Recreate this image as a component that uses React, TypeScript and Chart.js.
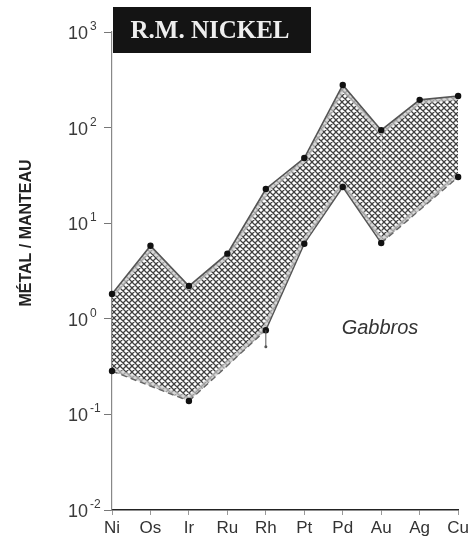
import React, { useEffect, useRef } from "react";
import { Chart, registerables } from "chart.js";

Chart.register(...registerables);

const categories = ["Ni", "Os", "Ir", "Ru", "Rh", "Pt", "Pd", "Au", "Ag", "Cu"];
const upperValues = [1.82, 5.8, 2.2, 4.8, 22.8, 48, 279, 94, 195, 214];
const lowerValues: (number | null)[] = [0.284, null, 0.138, null, 0.76, 6.1, 23.9, 6.2, null, 30.4];
const rhErrorLow = 0.51;
const decadeTicks = [0.01, 0.1, 1, 10, 100, 1000];
const decadeExponents = ["-2", "-1", "0", "1", "2", "3"];
const dashedLowerSegmentEnds = ["Ir", "Rh", "Cu"]; // lower-line segments ending here are dashed

function makeHatch(): CanvasPattern | string {
  const n = 6;
  const c = document.createElement("canvas");
  c.width = n;
  c.height = n;
  const g = c.getContext("2d");
  if (!g) return "#888";
  g.fillStyle = "#ffffff";
  g.fillRect(0, 0, n, n);
  g.strokeStyle = "#404040";
  g.lineWidth = 1.3;
  g.beginPath();
  for (const k of [-n, 0, n]) {
    g.moveTo(-1 + k, -1);
    g.lineTo(n + 1 + k, n + 1);
    g.moveTo(-1 + k, n + 1);
    g.lineTo(n + 1 + k, -1);
  }
  g.stroke();
  return g.createPattern(c, "repeat") || "#888";
}

export default function App() {
  const ref = useRef<HTMLCanvasElement | null>(null);

  useEffect(() => {
    if (!ref.current) return;
    const hatch = makeHatch();
    const dashedEnds = dashedLowerSegmentEnds.map((c) => categories.indexOf(c));

    const decorPlugin = {
      id: "decor",
      beforeDatasetsDraw(chart: any) {
        // light grey band along the inside of the hatched area
        const up = chart.getDatasetMeta(0).data.filter((p: any) => !p.skip);
        const lo = chart.getDatasetMeta(1).data.filter((p: any) => !p.skip);
        const ctx = chart.ctx;
        ctx.save();
        ctx.beginPath();
        up.forEach((p: any, i: number) => (i ? ctx.lineTo(p.x, p.y) : ctx.moveTo(p.x, p.y)));
        for (let i = lo.length - 1; i >= 0; i--) ctx.lineTo(lo[i].x, lo[i].y);
        ctx.closePath();
        ctx.clip();
        ctx.strokeStyle = "rgba(200,200,200,0.7)";
        ctx.lineWidth = 8;
        ctx.lineJoin = "round";
        ctx.beginPath();
        up.forEach((p: any, i: number) => (i ? ctx.lineTo(p.x, p.y) : ctx.moveTo(p.x, p.y)));
        ctx.stroke();
        ctx.beginPath();
        lo.forEach((p: any, i: number) => (i ? ctx.lineTo(p.x, p.y) : ctx.moveTo(p.x, p.y)));
        ctx.stroke();
        ctx.restore();
      },
      afterDatasetsDraw(chart: any) {
        const ctx = chart.ctx;
        const xs = chart.scales.x;
        const ys = chart.scales.y;
        // error bar on Rh lower
        const ri = categories.indexOf("Rh");
        const x = xs.getPixelForValue(ri);
        const y0 = ys.getPixelForValue(lowerValues[ri] as number);
        const y1 = ys.getPixelForValue(rhErrorLow);
        ctx.save();
        ctx.strokeStyle = "#555";
        ctx.lineWidth = 1;
        ctx.beginPath();
        ctx.moveTo(x, y0);
        ctx.lineTo(x, y1);
        ctx.stroke();
        ctx.fillStyle = "#555";
        ctx.beginPath();
        ctx.arc(x, y1, 1.5, 0, Math.PI * 2);
        ctx.fill();
        ctx.restore();
      },
      afterDraw(chart: any) {
        const ctx = chart.ctx;
        const ys = chart.scales.y;
        ctx.save();
        // y tick labels with exponents
        ctx.fillStyle = "#3a3a3a";
        decadeTicks.forEach((v, i) => {
          const y = ys.getPixelForValue(v);
          ctx.font = '18px "Liberation Sans", Arial, sans-serif';
          ctx.textAlign = "right";
          ctx.textBaseline = "middle";
          ctx.fillText("10", 88, y + 2);
          ctx.font = '12px "Liberation Sans", Arial, sans-serif';
          ctx.textAlign = "left";
          ctx.textBaseline = "alphabetic";
          ctx.fillText(decadeExponents[i], 90, y - 2);
        });
        // y axis title
        ctx.save();
        ctx.translate(27, 233);
        ctx.rotate(-Math.PI / 2);
        ctx.font = 'bold 16px "Liberation Sans", Arial, sans-serif';
        ctx.textAlign = "center";
        ctx.textBaseline = "middle";
        ctx.fillStyle = "#222";
        ctx.fillText("MÉTAL / MANTEAU", 0, 0);
        ctx.restore();
        // Gabbros label
        ctx.font = 'italic 20px "Liberation Sans", Arial, sans-serif';
        ctx.textAlign = "center";
        ctx.textBaseline = "middle";
        ctx.fillStyle = "#333";
        ctx.fillText("Gabbros", 380, 328);
        // title box
        ctx.fillStyle = "#141414";
        ctx.fillRect(113, 7, 198, 46);
        ctx.fillStyle = "#eeeeee";
        ctx.font = 'bold 25px "Liberation Serif", "Times New Roman", serif';
        ctx.textAlign = "center";
        ctx.textBaseline = "middle";
        ctx.fillText("R.M. NICKEL", 210, 32);
        ctx.restore();
      },
    };

    const chart = new Chart(ref.current, {
      type: "line",
      data: {
        labels: categories,
        datasets: [
          {
            label: "upper",
            data: upperValues,
            borderColor: "#555",
            borderWidth: 1.6,
            pointRadius: 3.2,
            pointBackgroundColor: "#111",
            pointBorderColor: "#111",
            pointBorderWidth: 0,
            tension: 0,
            fill: { target: "+1", above: hatch, below: hatch } as any,
          },
          {
            label: "lower",
            data: lowerValues,
            borderColor: "#4a4a4a",
            borderWidth: 1.4,
            pointRadius: 3.2,
            pointBackgroundColor: "#111",
            pointBorderColor: "#111",
            pointBorderWidth: 0,
            tension: 0,
            spanGaps: true,
            fill: false,
            segment: {
              borderDash: (c: any) => (dashedEnds.includes(c.p1DataIndex) ? [6, 4] : []),
              borderColor: (c: any) => (dashedEnds.includes(c.p1DataIndex) ? "#666" : "#555"),
            },
          },
        ],
      },
      options: {
        responsive: false,
        animation: false,
        layout: { padding: { top: 32, right: 13, left: 0, bottom: 0 } },
        plugins: {
          legend: { display: false },
          tooltip: { enabled: false },
          filler: { drawTime: "beforeDatasetsDraw" } as any,
        },
        scales: {
          x: {
            type: "category",
            offset: false,
            grid: { drawOnChartArea: false, drawTicks: true, tickLength: 5, color: "#999" },
            border: { display: true, color: "#222", width: 1.6 },
            ticks: {
              color: "#333",
              font: { family: '"Liberation Sans", Arial, sans-serif', size: 17 },
              padding: 3,
              maxRotation: 0,
              autoSkip: false,
            },
            afterFit: (s: any) => {
              s.height = 33;
            },
          },
          y: {
            type: "logarithmic",
            min: 0.01,
            max: 1000,
            grid: { drawOnChartArea: false, drawTicks: true, tickLength: 8, color: "#777" },
            border: { display: true, color: "#888", width: 1.2 },
            ticks: { display: false },
            afterBuildTicks: (s: any) => {
              s.ticks = decadeTicks.map((v) => ({ value: v }));
            },
            afterFit: (s: any) => {
              s.width = 112;
            },
          },
        },
      },
      plugins: [decorPlugin],
    } as any);

    return () => chart.destroy();
  }, []);

  return (
    <div style={{ position: "absolute", left: 0, top: 0, width: 472, height: 543, background: "#fff" }}>
      <canvas ref={ref} width={472} height={543} style={{ display: "block" }} />
    </div>
  );
}
